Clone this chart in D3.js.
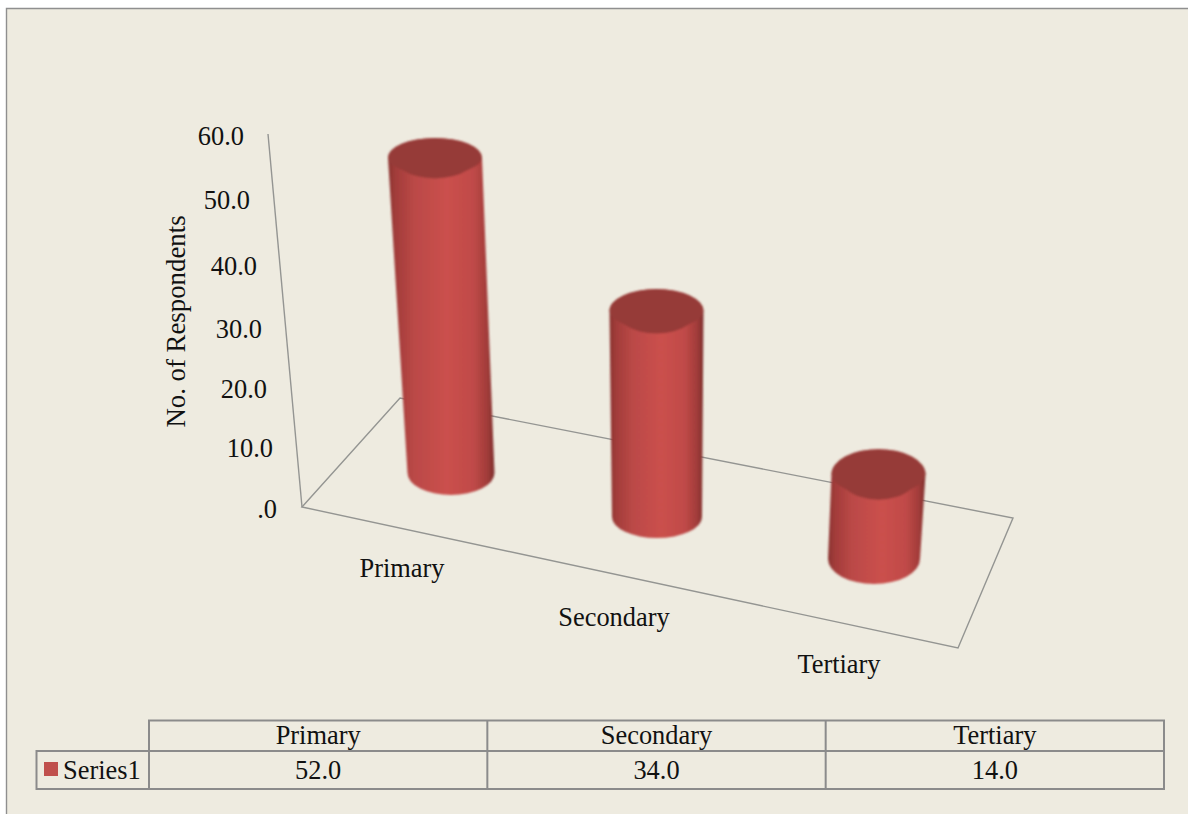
<!DOCTYPE html>
<html><head><meta charset="utf-8">
<script src="https://cdn.jsdelivr.net/npm/d3@7"></script>
<style>html,body{margin:0;padding:0;background:#fff}svg{display:block}text{font-family:"Liberation Serif",serif;fill:#111}</style>
</head><body><svg id="c" width="1188" height="814"></svg>
<script>
const categories = ["Primary","Secondary","Tertiary"];
const values = [52.0,34.0,14.0];
const tickValues = [0,10,20,30,40,50,60];
const tickLabels = [".0","10.0","20.0","30.0","40.0","50.0","60.0"];
const seriesName = "Series1";
const yAxisTitle = "No. of Respondents";

const svg = d3.select("#c");
const FONT = 26.4, GRID = "#949592", TBL = "#8b8b8b";

svg.append("rect").attr("x",6).attr("y",8).attr("width",1182).attr("height",806).attr("fill","#eeebe0");
svg.append("path").attr("d","M6.5,814V8.5H1188").attr("fill","none").attr("stroke","#8f8f8f").attr("stroke-width",1.4);

const defs = svg.append("defs");
const grad = defs.append("linearGradient").attr("id","body").attr("x1",0).attr("x2",1).attr("y1",0).attr("y2",0);
[[0,"#8a3331"],[0.07,"#a23c3a"],[0.25,"#bb4947"],[0.55,"#cb504d"],[0.8,"#c04a48"],[0.93,"#a23c3a"],[1,"#7d302e"]]
  .forEach(([o,c])=>grad.append("stop").attr("offset",o).attr("stop-color",c));
defs.append("filter").attr("id","soft").append("feGaussianBlur").attr("stdDeviation",1);

// perspective value axis (tick spacing narrows towards the base)
const axisY = d3.scaleLinear().domain(tickValues).range([510,449,390,330,267,201,137]);
const axisX = d3.scaleLinear().domain(tickValues).range([277,273,267,262,257,250,244]);
const axisLineX = d3.scaleLinear().domain([0,60]).range([302,268]);
const axisLineY = d3.scaleLinear().domain([0,60]).range([507,134]);

// floor
const floor = [[302,507],[400,398],[1013,518],[958,648]];
svg.append("path").attr("d",d3.line().curve(d3.curveLinearClosed)(floor))
  .attr("fill","none").attr("stroke",GRID).attr("stroke-width",1.4);
svg.append("path").attr("d",d3.line().x(v=>axisLineX(v)).y(v=>axisLineY(v))([0,60]))
  .attr("fill","none").attr("stroke",GRID).attr("stroke-width",1.4);

// ticks
svg.append("g").selectAll("text").data(tickValues).join("text")
  .attr("x",v=>axisX(v)).attr("y",v=>axisY(v)+8).attr("text-anchor","end")
  .attr("font-size",FONT).text((v,i)=>tickLabels[i]);
svg.append("text").attr("transform","translate(185,321.5) rotate(-90)").attr("text-anchor","middle")
  .attr("font-size",FONT+0.4).text(yAxisTitle);

// cylinders
const ord = r => d3.scaleOrdinal().domain(categories).range(r);
const baseX = ord([451,657,874]), baseY = ord([473,517,559]);
const topX = ord([435,656.5,878.5]);
const baseRx = ord([43.5,45,46]), baseRy = ord([22,21,25]);
const topRx = ord([47,47,47]), topRy = ord([20,22,25]);
const heightPx = d3.scaleLinear().domain([0,52]).range([0,315]);
const rows = categories.map((c,i)=>({c,v:values[i]}));
const cyl = svg.append("g").attr("filter","url(#soft)").selectAll("g").data(rows).join("g");
cyl.append("path").attr("fill","url(#body)").attr("d",d=>{
  const bx=baseX(d.c),by=baseY(d.c),tx=topX(d.c),ty=by-heightPx(d.v);
  const brx=baseRx(d.c),bry=baseRy(d.c),trx=topRx(d.c),tr=topRy(d.c);
  return `M${tx-trx},${ty}L${bx-brx},${by}A${brx},${bry} 0 0 0 ${bx+brx},${by}L${tx+trx},${ty}A${trx},${tr} 0 0 0 ${tx-trx},${ty}Z`;
});
// cap: full outer arc over the top, narrower arc along the front so the side rim shows
cyl.append("path").attr("fill","#963b38").attr("d",d=>{
  const tx=topX(d.c),ty=baseY(d.c)-heightPx(d.v),r=topRx(d.c),q=topRy(d.c),n=r*0.84;
  return `M${tx-r},${ty}A${r},${q} 0 0 1 ${tx+r},${ty}C${tx+r-2},${ty+q*0.35} ${tx+n},${ty+q*0.45} ${tx+n*0.8},${ty+q*0.62}A${n},${q} 0 0 1 ${tx-n*0.8},${ty+q*0.62}C${tx-n},${ty+q*0.45} ${tx-r+2},${ty+q*0.35} ${tx-r},${ty}Z`;
});

// category labels
const labX = ord([402,614,839]), labY = ord([577,626,673]);
svg.append("g").selectAll("text").data(categories).join("text")
  .attr("x",c=>labX(c)).attr("y",c=>labY(c)).attr("text-anchor","middle").attr("font-size",FONT).text(c=>c);

// data table
const col = d3.scalePoint().domain([0,1,2,3]).range([149,1164]);
const tbl = svg.append("g").attr("fill","none").attr("stroke",TBL).attr("stroke-width",2);
tbl.append("rect").attr("x",149).attr("y",720.5).attr("width",1015).attr("height",68.5);
tbl.append("rect").attr("x",36.5).attr("y",751).attr("width",1127.5).attr("height",38);
col.domain().slice(1,3).forEach(i=>tbl.append("line").attr("x1",col(i)).attr("x2",col(i)).attr("y1",720.5).attr("y2",789));
svg.append("g").selectAll("text").data(categories).join("text")
  .attr("x",(c,i)=>(col(i)+col(i+1))/2).attr("y",744).attr("text-anchor","middle").attr("font-size",FONT).text(c=>c);
svg.append("g").selectAll("text").data(values).join("text")
  .attr("x",(v,i)=>(col(i)+col(i+1))/2).attr("y",779).attr("text-anchor","middle").attr("font-size",FONT).text(v=>v.toFixed(1));
svg.append("rect").attr("x",44).attr("y",762).attr("width",14).attr("height",14).attr("fill","#c0504d");
svg.append("text").attr("x",63).attr("y",779).attr("font-size",FONT).text(seriesName);
</script></body></html>
